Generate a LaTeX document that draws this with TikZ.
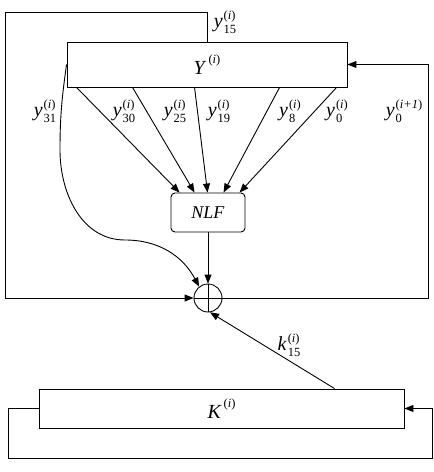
\documentclass[tikz,border=0pt]{standalone}
\usepackage{fontspec}
\setmainfont{Liberation Serif}
\usetikzlibrary{arrows.meta}
\newcommand{\smallscr}{\fontsize{12.5}{13}\selectfont}
\newcommand{\lbl}[3]{\textit{#1}\kern1pt\ooalign{\raisebox{0.42em}{\smallscr(\textit{#2})}\cr\raisebox{-0.28em}{\smallscr #3}\cr}}
\newcommand{\reglbl}[1]{\textit{#1}\kern2pt\raisebox{0.55em}{\smallscr(\textit{i})}}
\begin{document}
\begin{tikzpicture}[x=1pt,y=-1pt,
  every node/.style={font=\fontsize{20}{22}\selectfont, inner sep=0pt},
  reg/.style={draw, line width=0.9pt, rectangle},
  conn/.style={line width=0.9pt},
  arr/.style={conn, -{Triangle[length=9pt,width=7pt]}},
  lab/.style={font=\fontsize{20}{22}\selectfont}]
\useasboundingbox (0,0) rectangle (434,472);
% boxes
\node[reg, minimum width=280pt, minimum height=45pt] (Y) at (207,64.5) {\reglbl{Y}};
\node[reg, rounded corners=4pt, minimum width=74pt, minimum height=39pt, font=\fontsize{18}{20}\selectfont] (NLF) at (208,212.5) {\textit{NLF}};
\node[draw, circle, line width=0.9pt, minimum size=28pt] (X) at (208,298) {};
\draw[conn] (X.north) -- (X.south) (X.west) -- (X.east);
\node[reg, minimum width=365pt, minimum height=39pt] (K) at (221.5,408.5) {\reglbl{K}};
% coordinates
\coordinate (tl) at (5,12);
\coordinate (bl) at (5,298);
\coordinate (br) at (428,298);
\coordinate (tr) at (428,64.5);
\coordinate (c1) at (60,150);
\coordinate (c2) at (125,240);
\coordinate (kl) at (8,458);
\coordinate (kr) at (432,458);
% top loop y15
\draw[arr] (Y.north) |- (tl) -- (bl) -- (X.west);
% right loop
\draw[arr] (X.east) -- (br) -- (tr) -- (Y.east);
% arrows to NLF
\draw[arr] ([xshift=10pt]Y.south west) -- ([xshift=9pt]NLF.north west);
\draw[arr] ([xshift=66pt]Y.south west) -- ([xshift=24pt]NLF.north west);
\draw[arr] ([xshift=128pt]Y.south west) -- ([xshift=37pt]NLF.north west);
\draw[arr] ([xshift=213pt]Y.south west) -- ([xshift=53pt]NLF.north west);
\draw[arr] ([xshift=270pt]Y.south west) -- ([xshift=69pt]NLF.north west);
% y31 curve
\draw[arr] (Y.west) to[out=-98,in=90] (c1) to[out=-90,in=180] (c2) to[out=0,in=118] (X.128);
% NLF to xor
\draw[arr] (NLF.south) -- (X.north);
% k15
\draw[arr] ([xshift=296pt]K.north west) -- (X.-82);
% K loop
\draw[arr] (K.west) -| (kl) -- (kr) |- (K.east);
% labels
\node[lab] (l15) at (225,22) {\lbl{y}{i}{15}};
\node[lab] (l31) at (45,111) {\lbl{y}{i}{31}};
\node[lab] (l30) at (124,111) {\lbl{y}{i}{30}};
\node[lab] (l25) at (175,111) {\lbl{y}{i}{25}};
\node[lab] (l19) at (219,111) {\lbl{y}{i}{19}};
\node[lab] (l8) at (290,111) {\lbl{y}{i}{8}};
\node[lab] (l0) at (337,111) {\lbl{y}{i}{0}};
\node[lab] (l01) at (404,111) {\lbl{y}{i+1}{0}};
\node[lab] (lk) at (289,345) {\lbl{k}{i}{15}};
\end{tikzpicture}
\end{document}
